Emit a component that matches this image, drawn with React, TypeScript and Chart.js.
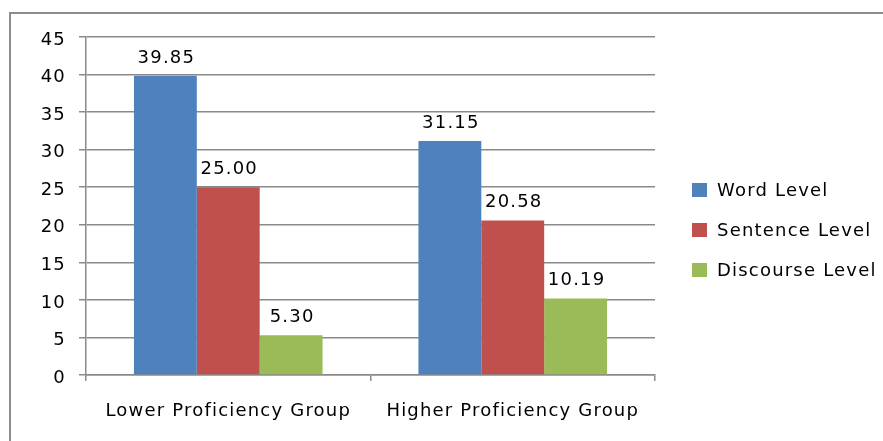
import React, { useEffect, useRef } from "react";
import { Chart, registerables } from "chart.js";

Chart.register(...registerables);

const categories = ["Lower Proficiency Group", "Higher Proficiency Group"];
const seriesNames = ["Word Level", "Sentence Level", "Discourse Level"];
const wordLevel = [39.85, 31.15];
const sentenceLevel = [25.0, 20.58];
const discourseLevel = [5.3, 10.19];
const seriesColors = ["#4F81BD", "#C0504D", "#9BBB59"];
const yTicks = [0, 5, 10, 15, 20, 25, 30, 35, 40, 45];

const FONT = "'DejaVu Sans', sans-serif";
const GRID = "#8a8a8a";
const SPACING = "1.2px";

// Outer frame (top and left edges) drawn behind everything; also sets the
// wide letter spacing used by every text on the canvas
const framePlugin = {
  id: "frame",
  beforeLayout(chart: any) {
    chart.ctx.letterSpacing = SPACING;
  },
  beforeDraw(chart: any) {
    const ctx = chart.ctx;
    ctx.letterSpacing = SPACING;
    ctx.save();
    ctx.fillStyle = "#ffffff";
    ctx.fillRect(0, 0, chart.width, chart.height);
    ctx.fillStyle = "#8c8c8c";
    ctx.fillRect(9, 12, chart.width - 9, 2);
    ctx.fillRect(9, 12, 2, chart.height - 12);
    ctx.restore();
  },
};

// Value labels above each bar
const valueLabelPlugin = {
  id: "valueLabels",
  afterDatasetsDraw(chart: any) {
    const ctx = chart.ctx;
    ctx.save();
    ctx.font = `18px ${FONT}`;
    ctx.fillStyle = "#000";
    ctx.textAlign = "center";
    ctx.textBaseline = "alphabetic";
    chart.data.datasets.forEach((ds: any, i: number) => {
      const meta = chart.getDatasetMeta(i);
      meta.data.forEach((bar: any, j: number) => {
        const v = ds.data[j] as number;
        ctx.fillText(v.toFixed(2), bar.x + 1, bar.y - 13);
      });
    });
    ctx.restore();
  },
};

// Legend column to the right of the plot
const sideLegendPlugin = {
  id: "sideLegend",
  afterDraw(chart: any) {
    const ctx = chart.ctx;
    ctx.save();
    ctx.font = `18px ${FONT}`;
    ctx.textAlign = "left";
    ctx.textBaseline = "middle";
    chart.data.datasets.forEach((ds: any, i: number) => {
      const cy = 190 + i * 40;
      ctx.fillStyle = ds.backgroundColor;
      ctx.fillRect(692, cy - 7, 15, 14);
      ctx.fillStyle = "#000";
      ctx.fillText(ds.label, 717, cy + 1);
    });
    ctx.restore();
  },
};

export default function App() {
  const ref = useRef<HTMLCanvasElement | null>(null);

  useEffect(() => {
    if (!ref.current) return;
    const chart = new Chart(ref.current, {
      type: "bar",
      data: {
        labels: categories,
        datasets: [
          { label: seriesNames[0], data: wordLevel, backgroundColor: seriesColors[0] },
          { label: seriesNames[1], data: sentenceLevel, backgroundColor: seriesColors[1] },
          { label: seriesNames[2], data: discourseLevel, backgroundColor: seriesColors[2] },
        ],
      },
      options: {
        animation: false,
        responsive: false,
        maintainAspectRatio: false,
        layout: { padding: { left: 0, top: 37, right: 228, bottom: 10 } },
        datasets: {
          bar: { categoryPercentage: 0.663, barPercentage: 1 },
        },
        plugins: {
          legend: { display: false },
          tooltip: { enabled: false },
        },
        scales: {
          x: {
            offset: true,
            grid: {
              offset: true,
              drawOnChartArea: false,
              color: GRID,
              lineWidth: 1.5,
              tickLength: 6,
            },
            border: { color: GRID, width: 1.5 },
            ticks: {
              color: "#000",
              font: { family: FONT, size: 18 },
              padding: 20,
              maxRotation: 0,
            },
            afterFit(scale: any) {
              scale.height = 56;
            },
          },
          y: {
            min: 0,
            max: 45,
            afterBuildTicks(scale: any) {
              scale.ticks = yTicks.map((v) => ({ value: v }));
            },
            grid: { color: GRID, lineWidth: 1.5, tickLength: 7 },
            border: { color: GRID, width: 1.5 },
            ticks: {
              color: "#000",
              font: { family: FONT, size: 18 },
              padding: 13,
              labelOffset: 3,
            },
            afterFit(scale: any) {
              scale.width = 86;
            },
          },
        },
      },
      plugins: [framePlugin, valueLabelPlugin, sideLegendPlugin],
    });
    return () => chart.destroy();
  }, []);

  return (
    <div style={{ position: "fixed", left: 0, top: 0, width: 883, height: 441, background: "#fff" }}>
      <canvas ref={ref} width={883} height={441} style={{ display: "block" }} />
    </div>
  );
}
